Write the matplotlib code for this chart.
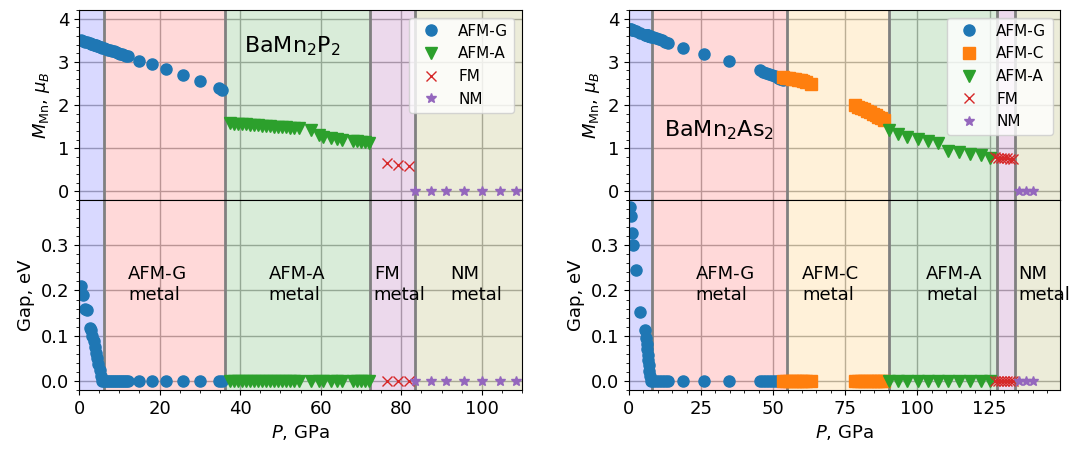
import matplotlib
matplotlib.use('Agg')
import matplotlib.pyplot as plt
from matplotlib.ticker import MultipleLocator

# ---- BaMn2P2 ----
p2_G_P = [0.5, 1.0, 1.5, 1.9, 2.8, 3.0, 3.3, 3.6, 3.9, 4.2, 4.5, 4.8, 5.1, 5.4, 5.7,
          6.2, 6.7, 7.2, 7.7, 8.2, 8.7, 9.2, 9.7, 10.2, 10.7, 11.2, 11.7, 12.2,
          15.0, 18.1, 21.6, 25.7, 30.1, 34.7, 35.6]
p2_G_M = [3.50, 3.49, 3.47, 3.46, 3.43, 3.42, 3.41, 3.40, 3.39, 3.38, 3.37, 3.36, 3.35, 3.34, 3.33,
          3.31, 3.30, 3.28, 3.27, 3.25, 3.24, 3.22, 3.21, 3.19, 3.17, 3.16, 3.14, 3.13,
          3.03, 2.95, 2.84, 2.70, 2.55, 2.40, 2.34]
p2_G_gap = [0.21, 0.19, 0.16, 0.157, 0.118, 0.112, 0.10, 0.088, 0.075, 0.062, 0.05, 0.037, 0.024, 0.012, 0.0,
            0, 0, 0, 0, 0, 0, 0, 0, 0, 0, 0, 0, 0,
            0, 0, 0, 0, 0, 0, 0]
p2_A_P = [37.5, 38.5, 39.5, 40.5, 41.5, 42.5, 43.5, 44.5, 45.5, 46.5, 47.5, 48.5, 49.5, 50.5,
          51.5, 52.5, 53.5, 54.5, 57.5, 59.5, 60.5, 62.5, 64.0, 65.2, 68.0, 69.0, 70.0, 71.0, 72.0]
p2_A_M = [1.58, 1.57, 1.56, 1.56, 1.55, 1.54, 1.53, 1.53, 1.52, 1.51, 1.51, 1.50, 1.49, 1.49,
          1.48, 1.47, 1.47, 1.46, 1.41, 1.30, 1.27, 1.24, 1.21, 1.20, 1.17, 1.16, 1.15, 1.14, 1.13]
p2_F_P = [76.5, 79.3, 82.0]
p2_F_M = [0.65, 0.62, 0.59]
p2_N_P = [83.4, 87.3, 91.2, 95.6, 100.1, 104.5, 108.4]

p2_bounds = [0, 6.3, 36.3, 72.2, 83.5, 110]
p2_colors = ['blue', 'red', 'green', 'purple', 'olive']
p2_labels = ['', 'AFM-G\nmetal', 'AFM-A\nmetal', 'FM\nmetal', 'NM\nmetal']
p2_label_x = [0, 12.2, 47.1, 73.2, 92.2]

# ---- BaMn2As2 ----
as_G_P = [0.35, 0.7, 1.2, 1.5, 2.4, 4.0, 5.6, 5.9, 6.1, 6.3, 6.5, 6.7, 6.9, 7.1, 7.3, 7.5,
          8.5, 9.5, 10.5, 11.5, 12.5, 13.6, 18.9, 26.0, 34.7,
          45.3, 46.5, 47.5, 48.5, 49.5, 50.5, 51.5, 52.5, 53.5]
as_G_M = [3.76, 3.75, 3.74, 3.73, 3.71, 3.67, 3.63, 3.62, 3.62, 3.61, 3.61, 3.60, 3.60, 3.59, 3.59, 3.58,
          3.57, 3.54, 3.52, 3.50, 3.47, 3.44, 3.32, 3.19, 3.01,
          2.80, 2.77, 2.75, 2.72, 2.69, 2.66, 2.63, 2.60, 2.57]
as_G_gap = [0.384, 0.365, 0.326, 0.30, 0.245, 0.152, 0.112, 0.094, 0.082, 0.07, 0.058, 0.047, 0.035, 0.023, 0.012, 0.0,
            0, 0, 0, 0, 0, 0, 0, 0, 0,
            0, 0, 0, 0, 0, 0, 0, 0, 0]
as_C_P = [53.5, 54.5, 55.5, 56.5, 57.5, 58.5, 59.5, 60.5, 61.5, 63.0,
          78.5, 79.5, 80.5, 81.5, 82.5, 83.5, 84.5, 85.5, 86.5, 87.5, 88.5]
as_C_M = [2.64, 2.63, 2.62, 2.61, 2.60, 2.58, 2.57, 2.56, 2.54, 2.48,
          2.00, 1.96, 1.93, 1.90, 1.87, 1.83, 1.80, 1.76, 1.72, 1.69, 1.66]
as_A_P = [90.2, 93.2, 96.4, 100.1, 103.6, 107.0, 110.5, 114.3, 118.4, 122.1, 125.3]
as_A_M = [1.42, 1.32, 1.27, 1.22, 1.17, 1.13, 0.94, 0.92, 0.87, 0.84, 0.78]
as_F_P = [127.0, 128.0, 129.0, 130.0, 131.0, 132.0, 133.0]
as_F_M = [0.79, 0.78, 0.78, 0.77, 0.77, 0.76, 0.75]
as_N_P = [135.2, 137.5, 140.2]

as_bounds = [0, 8.0, 54.7, 90.0, 127.5, 133.8, 149.5]
as_colors = ['blue', 'red', 'orange', 'green', 'purple', 'olive']
as_labels = ['', 'AFM-G\nmetal', 'AFM-C\nmetal', 'AFM-A\nmetal', '', 'NM\nmetal']
as_label_x = [0, 23.1, 60.0, 103.0, 0, 135.0]

plt.rcParams['font.size'] = 13

fig = plt.figure(figsize=(10.72, 4.5), dpi=100)


def panel(x0, x1, bounds, colors, labels, label_x, series, name, name_xy, xmax, xmajor):
    ax_t = fig.add_axes([x0, 0.5556, x1 - x0, 0.4222])
    ax_b = fig.add_axes([x0, 0.1333, x1 - x0, 0.4223], sharex=ax_t)
    for ax in (ax_t, ax_b):
        for i in range(len(colors)):
            ax.axvspan(bounds[i], bounds[i + 1], color=colors[i], alpha=0.15, lw=0)
        for b in bounds[1:-1]:
            ax.axvline(b, color='gray', lw=2)
        ax.grid(True, color='#b0b0b0', lw=1)
        ax.set_axisbelow(True)
    for P, M, gap, mk, c, ms, lab in series:
        ax_t.plot(P, M, mk, color=c, ms=ms, ls='none', label=lab)
        ax_b.plot(P, gap, mk, color=c, ms=ms, ls='none')
    ax_t.set_xlim(0, xmax)
    ax_t.set_ylim(-0.2, 4.2)
    ax_t.yaxis.set_major_locator(MultipleLocator(1))
    ax_t.yaxis.set_minor_locator(MultipleLocator(0.2))
    ax_t.tick_params(axis='x', which='both', bottom=False, labelbottom=False)
    ax_t.set_ylabel(r'$M_{\mathrm{Mn}}$, $\mu_B$')
    ax_t.text(name_xy[0], name_xy[1], name, fontsize=16, va='center', ha='left')
    ax_t.legend(loc='upper right', fontsize=11)

    ax_b.set_ylim(-0.02, 0.4)
    ax_b.set_yticks([0.0, 0.1, 0.2, 0.3])
    ax_b.yaxis.set_minor_locator(MultipleLocator(0.02))
    ax_b.xaxis.set_major_locator(MultipleLocator(xmajor))
    ax_b.xaxis.set_minor_locator(MultipleLocator(5))
    ax_b.set_ylabel('Gap, eV')
    ax_b.set_xlabel(r'$P$, GPa')
    for lab, lx in zip(labels, label_x):
        if lab:
            ax_b.text(lx, 0.213, lab, va='center', ha='left')
    return ax_t, ax_b


p2_series = [
    (p2_G_P, p2_G_M, p2_G_gap, 'o', 'C0', 8, 'AFM-G'),
    (p2_A_P, p2_A_M, [0] * len(p2_A_P), 'v', 'C2', 8, 'AFM-A'),
    (p2_F_P, p2_F_M, [0] * len(p2_F_P), 'x', 'C3', 7, 'FM'),
    (p2_N_P, [0] * len(p2_N_P), [0] * len(p2_N_P), '*', 'C4', 7, 'NM'),
]
as_series = [
    (as_G_P, as_G_M, as_G_gap, 'o', 'C0', 8, 'AFM-G'),
    (as_C_P, as_C_M, [0] * len(as_C_P), 's', 'C1', 8, 'AFM-C'),
    (as_A_P, as_A_M, [0] * len(as_A_P), 'v', 'C2', 8, 'AFM-A'),
    (as_F_P, as_F_M, [0] * len(as_F_P), 'x', 'C3', 7, 'FM'),
    (as_N_P, [0] * len(as_N_P), [0] * len(as_N_P), '*', 'C4', 7, 'NM'),
]

panel(0.0737, 0.487, p2_bounds, p2_colors, p2_labels, p2_label_x, p2_series,
      r'BaMn$_2$P$_2$', (41, 3.36), 110, 20)
panel(0.5867, 0.989, as_bounds, as_colors, as_labels, as_label_x, as_series,
      r'BaMn$_2$As$_2$', (12.2, 1.42), 149.5, 25)

fig.savefig('out.png', dpi=100)
